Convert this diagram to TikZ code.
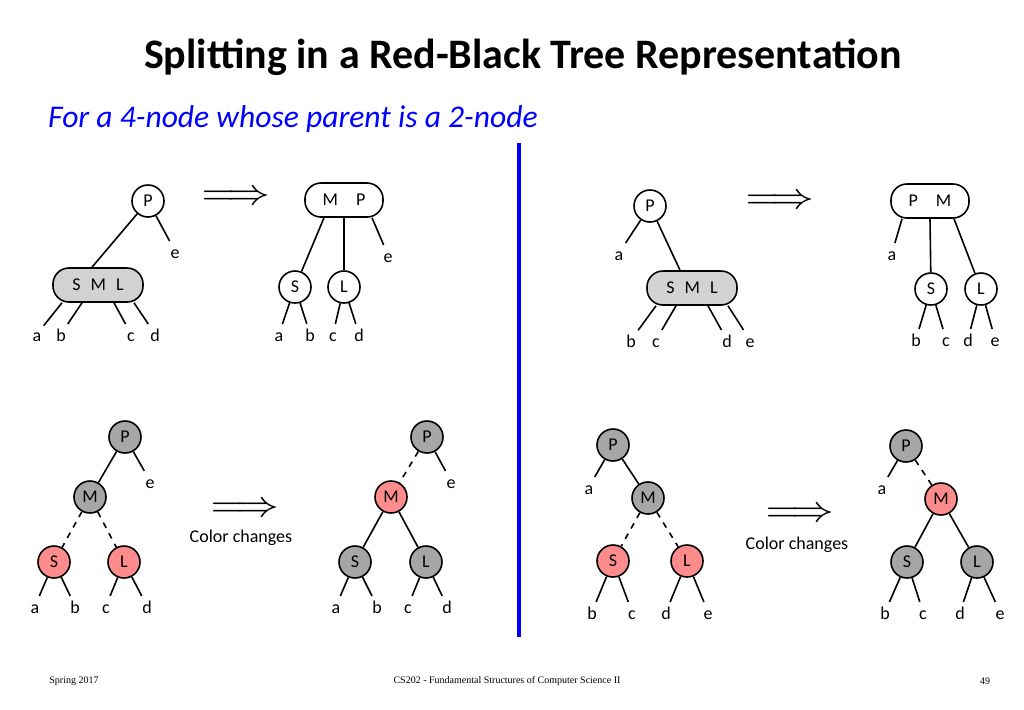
\documentclass[tikz,border=0pt]{standalone}
\usepackage{fontspec}
\setmainfont{Carlito}
\newfontfamily\footfont{Liberation Serif}
\usetikzlibrary{positioning}
\tikzset{
  key/.style={circle,draw,thick,minimum size=16pt,inner sep=0pt,font=\fontsize{9}{10}\selectfont},
  blk/.style={key,fill=gray!70},
  rd/.style={key,fill=red!45},
  wbox/.style={draw,thick,rounded corners=8pt,minimum height=17pt,font=\fontsize{9}{10}\selectfont},
  gbox/.style={wbox,fill=gray!35},
  leaf/.style={inner sep=1pt,text height=1.6ex,text depth=0pt,font=\fontsize{9}{10}\selectfont},
  link/.style={thick},
  redlink/.style={thick,dashed},
  impl/.style={inner sep=0pt,font=\fontsize{9}{10}\selectfont}
}
\newcommand{\implarrow}{\scalebox{2.3}[2]{$\Longrightarrow$}}
\begin{document}
\begin{tikzpicture}[x=0.5pt,y=-0.5pt]
  \useasboundingbox (0,0) rectangle (1024,709);

  % Title
  \node (title) at (523,57) {\fontsize{21}{24}\selectfont\bfseries Splitting in a Red-Black Tree Representation};
  \node[text=blue] (sub) at (293,119) {\fontsize{15.8}{18}\selectfont\itshape For a 4-node whose parent is a 2-node};
  \coordinate (vtop) at (519,143);
  \coordinate (vbot) at (519,637);
  \draw[blue,line width=2pt] (vtop) -- (vbot);

  % Top left: 2-3-4 tree
  \node[key] (P1) at (148,201) {P};
  \node[leaf] (e1) at (175,251) {e};
  \node[gbox,minimum width=45pt] (SML1) at (98,285) {S\,\, M\,\, L};
  \foreach \n/\x in {a/37,b/61,c/131,d/155} \node[leaf] (\n1) at (\x,334) {\n};
  \draw[link] (P1) -- ([xshift=-3pt]SML1.north);
  \draw[link] (P1) -- (e1);
  \draw[link] ([xshift=-18pt]SML1.south) -- (a1);
  \draw[link] ([xshift=-8pt]SML1.south) -- (b1);
  \draw[link] ([xshift=8pt]SML1.south) -- (c1);
  \draw[link] ([xshift=18pt]SML1.south) -- (d1);
  \node[impl] (arr1) at (236,198) {\implarrow};

  \node[wbox,minimum width=39pt] (MP1) at (344,200) {M\quad P};
  \node[leaf] (e2) at (388,255) {e};
  \node[key] (S2) at (295,287) {S};
  \node[key] (L2) at (344,287) {L};
  \foreach \n/\x in {a/279,b/310,c/333,d/359} \node[leaf] (\n2) at (\x,334) {\n};
  \draw[link] ([xshift=-10pt]MP1.south) -- (S2);
  \draw[link] (MP1.south) -- (L2);
  \draw[link] ([xshift=14pt]MP1.south) -- (e2);
  \draw[link] (S2) -- (a2); \draw[link] (S2) -- (b2);
  \draw[link] (L2) -- (c2); \draw[link] (L2) -- (d2);

  % Top right: 2-3-4 tree
  \node[key] (P3) at (650,206) {P};
  \node[leaf] (a3) at (619,253) {a};
  \node[gbox,minimum width=45pt] (SML3) at (692,288) {S\,\, M\,\, L};
  \foreach \n/\x in {b/631,c/656,d/727,e/750} \node[leaf] (\n3) at (\x,340) {\n};
  \draw[link] (P3) -- (a3);
  \draw[link] (P3) -- ([xshift=-6pt]SML3.north);
  \draw[link] ([xshift=-18pt]SML3.south) -- (b3);
  \draw[link] ([xshift=-8pt]SML3.south) -- (c3);
  \draw[link] ([xshift=8pt]SML3.south) -- (d3);
  \draw[link] ([xshift=18pt]SML3.south) -- (e3);
  \node[impl] (arr2) at (780,202) {\implarrow};

  \node[wbox,minimum width=39pt] (PM3) at (930,201) {P\quad M};
  \node[leaf] (a4) at (892,253) {a};
  \node[key] (S4) at (931,289) {S};
  \node[key] (L4) at (981,289) {L};
  \foreach \n/\x in {b/916,c/946,d/968,e/995} \node[leaf] (\n4) at (\x,339) {\n};
  \draw[link] ([xshift=-14pt]PM3.south) -- (a4);
  \draw[link] (PM3.south) -- (S4);
  \draw[link] ([xshift=12pt]PM3.south) -- (L4);
  \draw[link] (S4) -- (b4); \draw[link] (S4) -- (c4);
  \draw[link] (L4) -- (d4); \draw[link] (L4) -- (e4);

  % Bottom left: red-black tree
  \node[blk] (P5) at (125,437) {P};
  \node[leaf] (e5) at (150,481) {e};
  \node[blk] (M5) at (90,497) {M};
  \node[rd] (S5) at (54,562) {S};
  \node[rd] (L5) at (124,562) {L};
  \foreach \n/\x in {a/35,b/75,c/106,d/147} \node[leaf] (\n5) at (\x,606) {\n};
  \draw[link] (P5) -- (M5); \draw[link] (P5) -- (e5);
  \draw[redlink] (M5) -- (S5); \draw[redlink] (M5) -- (L5);
  \draw[link] (S5) -- (a5); \draw[link] (S5) -- (b5);
  \draw[link] (L5) -- (c5); \draw[link] (L5) -- (d5);
  \node[impl] (arr3) at (245,510) {\implarrow};
  \node[impl] (cc1) at (241,538) {Color changes};

  \node[blk] (P6) at (427,437) {P};
  \node[leaf] (e6) at (451,481) {e};
  \node[rd] (M6) at (391,497) {M};
  \node[blk] (S6) at (355,562) {S};
  \node[blk] (L6) at (426,562) {L};
  \foreach \n/\x in {a/336,b/377,c/408,d/447} \node[leaf] (\n6) at (\x,606) {\n};
  \draw[redlink] (P6) -- (M6); \draw[link] (P6) -- (e6);
  \draw[link] (M6) -- (S6); \draw[link] (M6) -- (L6);
  \draw[link] (S6) -- (a6); \draw[link] (S6) -- (b6);
  \draw[link] (L6) -- (c6); \draw[link] (L6) -- (d6);

  % Bottom right: red-black tree
  \node[blk] (P7) at (613,445) {P};
  \node[leaf] (a7) at (589,487) {a};
  \node[blk] (M7) at (648,498) {M};
  \node[rd] (S7) at (613,561) {S};
  \node[rd] (L7) at (687,561) {L};
  \foreach \n/\x in {b/592,c/632,d/666,e/708} \node[leaf] (\n7) at (\x,612) {\n};
  \draw[link] (P7) -- (a7); \draw[link] (P7) -- (M7);
  \draw[redlink] (M7) -- (S7); \draw[redlink] (M7) -- (L7);
  \draw[link] (S7) -- (b7); \draw[link] (S7) -- (c7);
  \draw[link] (L7) -- (d7); \draw[link] (L7) -- (e7);
  \node[impl] (arr4) at (800,515) {\implarrow};
  \node[impl] (cc2) at (797,545) {Color changes};

  \node[blk] (P8) at (906,446) {P};
  \node[leaf] (a8) at (882,487) {a};
  \node[rd] (M8) at (941,499) {M};
  \node[blk] (S8) at (907,562) {S};
  \node[blk] (L8) at (977,562) {L};
  \foreach \n/\x in {b/885,c/923,d/960,e/1000} \node[leaf] (\n8) at (\x,612) {\n};
  \draw[link] (P8) -- (a8); \draw[redlink] (P8) -- (M8);
  \draw[link] (M8) -- (S8); \draw[link] (M8) -- (L8);
  \draw[link] (S8) -- (b8); \draw[link] (S8) -- (c8);
  \draw[link] (L8) -- (d8); \draw[link] (L8) -- (e8);

  % Footer
  \node (f1) at (74,681) {\footfont\fontsize{5}{6}\selectfont Spring 2017};
  \node (f2) at (507,681) {\footfont\fontsize{5}{6}\selectfont CS202 - Fundamental Structures of Computer Science II};
  \node (f3) at (985,681) {\footfont\fontsize{5}{6}\selectfont 49};
\end{tikzpicture}
\end{document}
